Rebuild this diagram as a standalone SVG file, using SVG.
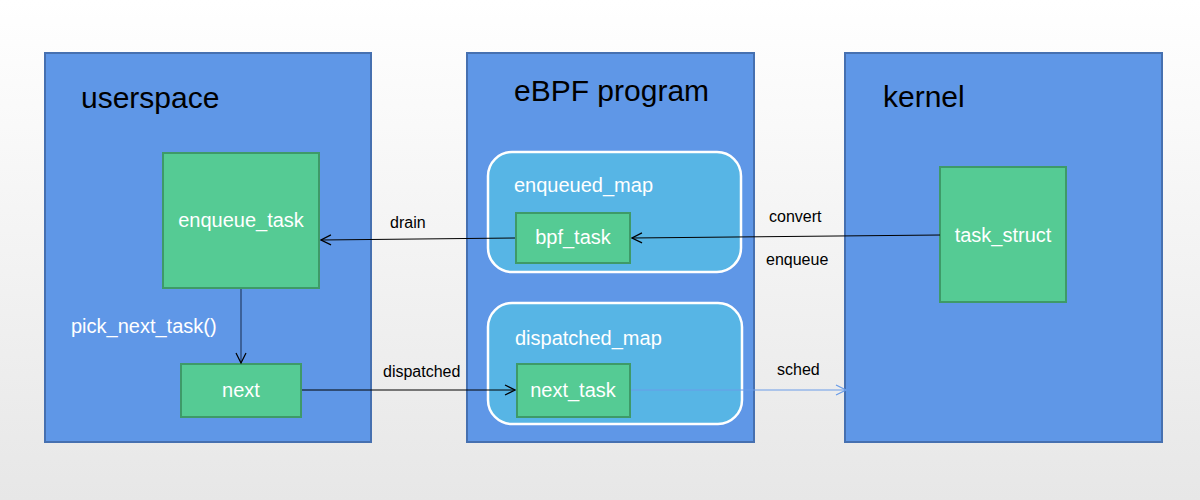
<svg xmlns="http://www.w3.org/2000/svg" width="1200" height="500" viewBox="0 0 1200 500">
<defs>
<linearGradient id="bg" x1="0" y1="0" x2="0" y2="1">
<stop offset="0" stop-color="#ffffff"/>
<stop offset="1" stop-color="#e7e7e7"/>
</linearGradient>
<marker id="ah" viewBox="0 0 12 12" refX="11" refY="6" markerWidth="12" markerHeight="12" markerUnits="userSpaceOnUse" orient="auto">
<path d="M1,1 L11,6 L1,11" fill="none" stroke="#000" stroke-width="1.2"/>
</marker>
<marker id="ahb" viewBox="0 0 12 12" refX="11" refY="6" markerWidth="12" markerHeight="12" markerUnits="userSpaceOnUse" orient="auto">
<path d="M1,1 L11,6 L1,11" fill="none" stroke="#6a9ce8" stroke-width="1.2"/>
</marker>
</defs>
<style>
.big{fill:#5f97e7;stroke:#4670b0;stroke-width:2}
.map{fill:#57b5e5;stroke:#ffffff;stroke-width:2.5}
.g{fill:#55cb94;stroke:#3e9a68;stroke-width:2}
.t30{font-family:"Liberation Sans",Arial,sans-serif;font-size:30px;fill:#000}
.tw{font-family:"Liberation Sans",Arial,sans-serif;font-size:20px;fill:#ffffff}
.tb{font-family:"Liberation Sans",Arial,sans-serif;font-size:16px;fill:#000}
.c{text-anchor:middle}
</style>
<rect x="0" y="0" width="1200" height="500" fill="url(#bg)"/>
<g id="userspace">
<rect class="big" x="45" y="53" width="326" height="389"/>
<text class="t30" x="81" y="108">userspace</text>
</g>
<g id="ebpf">
<rect class="big" x="467" y="53" width="287" height="389"/>
<text class="t30" x="514" y="101">eBPF program</text>
</g>
<g id="kernel">
<rect class="big" x="845" y="53" width="317" height="389"/>
<text class="t30" x="883" y="107">kernel</text>
</g>
<g id="enqueued_map">
<rect class="map" x="488" y="152" width="253" height="120" rx="24"/>
<text class="tw" x="514" y="192">enqueued_map</text>
</g>
<g id="dispatched_map">
<rect class="map" x="488" y="303" width="254" height="121" rx="24"/>
<text class="tw" x="515" y="345">dispatched_map</text>
</g>
<g id="enqueue_task">
<rect class="g" x="163" y="153" width="156" height="135"/>
<text class="tw c" x="241" y="227">enqueue_task</text>
</g>
<g id="next">
<rect class="g" x="181" y="364" width="120" height="53"/>
<text class="tw c" x="241" y="397">next</text>
</g>
<g id="bpf_task">
<rect class="g" x="516" y="213" width="114" height="50"/>
<text class="tw c" x="573" y="244">bpf_task</text>
</g>
<g id="next_task">
<rect class="g" x="517" y="364" width="113" height="53"/>
<text class="tw c" x="573" y="397">next_task</text>
</g>
<g id="task_struct">
<rect class="g" x="940" y="167" width="126" height="135"/>
<text class="tw c" x="1003" y="242">task_struct</text>
</g>
<g id="connectors" fill="none">
<line x1="515" y1="238" x2="321" y2="240" stroke="#000" stroke-width="1" marker-end="url(#ah)"/>
<line x1="940" y1="235" x2="632" y2="238" stroke="#000" stroke-width="1" marker-end="url(#ah)"/>
<line x1="241" y1="289" x2="241" y2="363" stroke="#2f4f80" stroke-width="1.5" marker-end="url(#ah)"/>
<line x1="302" y1="390" x2="515" y2="390" stroke="#000" stroke-width="1" marker-end="url(#ah)"/>
<line x1="631" y1="390" x2="846" y2="390" stroke="#6a9ce8" stroke-width="1" marker-end="url(#ahb)"/>
<text class="tb" x="390" y="228">drain</text>
<text class="tb" x="769" y="222">convert</text>
<text class="tb" x="766" y="265">enqueue</text>
<text class="tb" x="383" y="377">dispatched</text>
<text class="tb" x="777" y="375">sched</text>
<text class="tw" x="71" y="333">pick_next_task()</text>
</g>
</svg>
